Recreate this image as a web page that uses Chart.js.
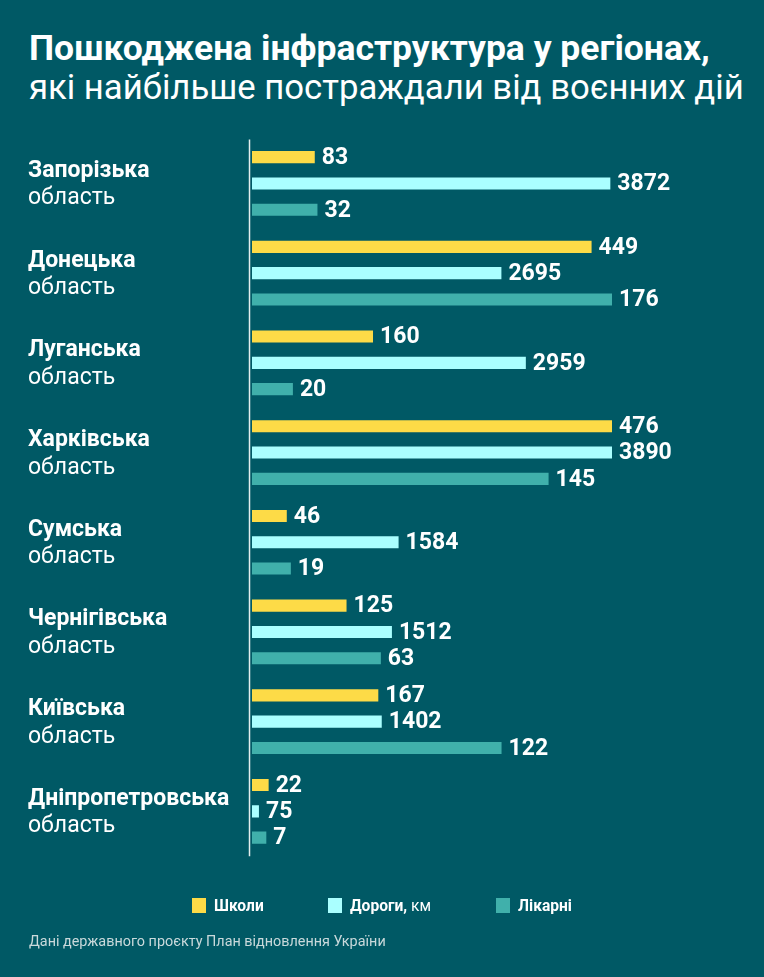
<!DOCTYPE html>
<html lang="uk">
<head>
<meta charset="utf-8">
<script src="https://cdn.jsdelivr.net/npm/chart.js@4.4.1/dist/chart.umd.min.js"></script>
<style>
  html, body { margin: 0; padding: 0; background: #005965; }
  body { width: 764px; height: 977px; position: relative; overflow: hidden; font-family: Roboto, sans-serif; color: #fff; }
  #wrap { position: absolute; left: 0; top: 0; width: 764px; height: 977px; }
  h1 { position: absolute; left: 29px; top: 29px; margin: 0; font-size: 35.5px; line-height: 39px; font-weight: 700; white-space: nowrap; }
  h1 span { font-weight: 400; font-size: 34.7px; }
  .key { position: absolute; top: 898px; height: 15px; }
  .key i { position: absolute; left: 0; top: 0; width: 14px; height: 15px; }
  .key b { position: absolute; left: 22px; top: -2px; font-size: 15.6px; line-height: 20px; white-space: nowrap; }
  .key b small { font-weight: 400; font-size: 15.6px; }
  .src { position: absolute; left: 29px; top: 933px; font-size: 14.4px; line-height: 18px; color: #c9d9db; }
</style>
</head>
<body>
<h1>Пошкоджена інфраструктура у регіонах,<br><span>які найбільше постраждали від воєнних дій</span></h1>
<div id="wrap"><canvas id="chart"></canvas></div>
<div class="key" style="left:192px"><i style="background:#fddb47"></i><b>Школи</b></div>
<div class="key" style="left:328px"><i style="background:#aaffff"></i><b>Дороги, <small>км</small></b></div>
<div class="key" style="left:496px"><i style="background:#40b0ab"></i><b>Лікарні</b></div>
<div class="src">Дані державного проєкту План відновлення України</div>
<script>
const regions = ["Запорізька", "Донецька", "Луганська", "Харківська", "Сумська", "Чернігівська", "Київська", "Дніпропетровська"];
const schools = [83, 449, 160, 476, 46, 125, 167, 22];
const roads = [3872, 2695, 2959, 3890, 1584, 1512, 1402, 75];
const hospitals = [32, 176, 20, 145, 19, 63, 122, 7];

// labels for the regions, values and the axis line
const labelPlugin = {
  id: "labels",
  afterDatasetsDraw(chart) {
    const ctx = chart.ctx;
    const area = chart.chartArea;
    ctx.save();
    ctx.fillStyle = "#fff";
    ctx.textAlign = "left";
    ctx.textBaseline = "middle";
    ctx.font = "bold 23px Roboto";
    chart.data.datasets.forEach((ds, di) => {
      chart.getDatasetMeta(di).data.forEach((bar, i) => {
        ctx.fillText(ds.data[i], bar.x + 7, bar.y + 1);
      });
    });
    ctx.textBaseline = "alphabetic";
    regions.forEach((r, i) => {
      const cy = chart.scales.y.getPixelForValue(i);
      ctx.font = "bold 23px Roboto";
      ctx.fillText(r, 28, cy - 6.5);
      ctx.font = "23px Roboto";
      ctx.fillText("область", 28, cy + 21);
    });
    ctx.strokeStyle = "#e4eded";
    ctx.lineWidth = 1.5;
    ctx.beginPath();
    ctx.moveTo(area.left - 2.5, area.top + 1);
    ctx.lineTo(area.left - 2.5, area.bottom);
    ctx.stroke();
    ctx.restore();
  }
};

const common = { barPercentage: 0.46, categoryPercentage: 0.88 };

new Chart(document.getElementById("chart"), {
  type: "bar",
  data: {
    labels: regions,
    datasets: [
      { label: "Школи", data: schools, xAxisID: "x0", backgroundColor: "#fddb47", ...common },
      { label: "Дороги, км", data: roads, xAxisID: "x1", backgroundColor: "#aaffff", ...common },
      { label: "Лікарні", data: hospitals, xAxisID: "x2", backgroundColor: "#40b0ab", ...common }
    ]
  },
  options: {
    indexAxis: "y",
    responsive: true,
    maintainAspectRatio: false,
    animation: false,
    layout: { padding: { left: 252, right: 152, top: 138.6, bottom: 120.8 } },
    plugins: { legend: { display: false }, tooltip: { enabled: false } },
    scales: {
      y: { type: "category", display: false },
      x0: { type: "linear", axis: "x", position: "bottom", display: false, min: 0, max: Math.max(...schools) },
      x1: { type: "linear", axis: "x", position: "bottom", display: false, min: 0, max: Math.max(...roads) },
      x2: { type: "linear", axis: "x", position: "bottom", display: false, min: 0, max: Math.max(...hospitals) }
    }
  },
  plugins: [labelPlugin]
});
</script>
</body>
</html>
